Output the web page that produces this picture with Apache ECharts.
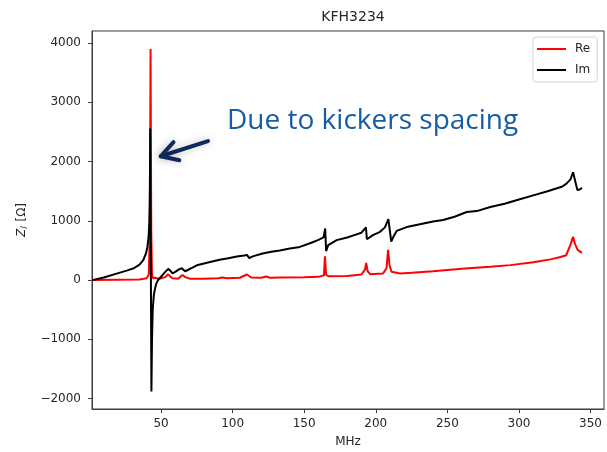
<!DOCTYPE html>
<html>
<head>
<meta charset="utf-8">
<title>KFH3234</title>
<script src="https://cdn.jsdelivr.net/npm/echarts@6/dist/echarts.min.js"></script>
<style>
  html, body { margin: 0; padding: 0; background: #ffffff; }
  #chart { width: 607px; height: 452px; }
</style>
</head>
<body>
<div id="chart"></div>
<script>
// Longitudinal impedance of KFH3234, real and imaginary parts (MHz, Ohm)
const freqRe = [2, 20, 35, 40, 41.5, 42.2, 42.7, 43.2, 43.7, 44.5, 46, 48, 50, 53, 55, 56.5, 58, 62, 65, 67, 70, 80, 90, 93, 96, 105, 110, 113, 120, 123.5, 126, 135, 150, 160, 163.8, 164.5, 165.3, 167, 180, 190, 192.5, 193.3, 194.3, 196, 205, 207.5, 208.6, 209.6, 211, 217, 225, 240, 260, 280, 294, 310, 322, 329, 333, 336, 337.8, 339, 341, 344];
const reValues = [0, 5, 10, 30, 100, 800, 3900, 800, 100, 30, 40, 20, 30, 50, 100, 60, 30, 25, 85, 50, 25, 25, 30, 45, 30, 40, 95, 45, 40, 60, 40, 45, 50, 55, 80, 400, 90, 65, 70, 95, 180, 290, 150, 100, 110, 200, 510, 250, 140, 113, 124, 150, 190, 224, 253, 300, 350, 390, 420, 600, 730, 620, 510, 460];

const freqIm = [2, 10, 19, 26, 31, 35, 37.6, 39.5, 40.5, 41.3, 41.8, 42.1, 42.3, 42.45, 43.3, 43.7, 44.2, 45, 46, 47, 48.5, 50.5, 53, 55, 56.5, 58, 60, 62.5, 64.5, 66.8, 69, 72, 75, 80, 85, 91, 97, 103, 108, 110, 111.7, 114, 121, 127, 133, 140, 147, 155, 160, 163.5, 164.7, 165.3, 166.8, 172.7, 180, 185, 190, 193.1, 193.8, 198, 203, 206.4, 208.8, 210.8, 212.5, 214.6, 221.6, 230, 240, 247, 255, 263.5, 270.5, 280, 290, 300, 310, 320, 326, 330, 333, 336, 337.8, 339, 340.8, 342.5, 344];
const imValues = [0, 45, 110, 160, 200, 260, 337, 450, 560, 720, 950, 1300, 1800, 2560, -1880, -1000, -500, -250, -120, -40, 20, 70, 140, 190, 160, 115, 140, 180, 200, 150, 175, 210, 250, 280, 310, 345, 370, 400, 415, 425, 370, 400, 450, 480, 500, 535, 560, 630, 680, 720, 870, 490, 590, 675, 720, 760, 800, 890, 690, 760, 815, 890, 1030, 650, 740, 830, 895, 940, 990, 1015, 1070, 1150, 1165, 1235, 1290, 1360, 1430, 1500, 1545, 1575, 1625, 1700, 1820, 1700, 1520, 1530, 1560];

const seriesNames = ['Re', 'Im'];
const xTicks = [50, 100, 150, 200, 250, 300, 350];
const yTicks = [-2000, -1000, 0, 1000, 2000, 3000, 4000];

// Callout drawn in data space: arrow from tail to tip, caption to its right
const calloutText = 'Due to kickers spacing';
const arrowTip = [49.8, 2090];
const arrowTail = [82.8, 2345];
const captionAnchor = [96.1, 2680];

const pairs = (xs, ys) => xs.map((x, i) => [x, ys[i]]);

const textColor = '#262626';
const spineColor = '#3d3d3d';
const mplFont = 'DejaVu Sans';

const chart = echarts.init(document.getElementById('chart'), null, { renderer: 'canvas' });

const option = {
  backgroundColor: '#ffffff',
  animation: false,
  title: {
    text: 'KFH3234',
    left: 348,
    top: 5,
    textAlign: 'center',
    textStyle: { fontFamily: mplFont, fontSize: 14, fontWeight: 'normal', color: textColor }
  },
  grid: {
    left: 92, right: 3, top: 31, bottom: 43,
    show: true, borderColor: spineColor, borderWidth: 1,
    outerBoundsMode: 'none'
  },
  legend: {
    data: seriesNames.map(n => ({ name: n, icon: 'rect' })),
    orient: 'vertical',
    left: 533, top: 37,
    itemWidth: 29, itemHeight: 2,
    itemGap: 7,
    itemStyle: { borderWidth: 0 },
    padding: [5, 7, 5, 4],
    backgroundColor: '#ffffff',
    borderColor: '#d4d4d4', borderWidth: 1, borderRadius: 3,
    textStyle: { fontFamily: mplFont, fontSize: 12, color: textColor, lineHeight: 14, padding: [0, 0, 0, 4] }
  },
  xAxis: {
    type: 'value',
    min: 1.8, max: 359.4,
    name: 'MHz',
    nameLocation: 'middle',
    nameGap: 27,
    nameTextStyle: { fontFamily: mplFont, fontSize: 12, color: textColor },
    axisLine: { show: true, onZero: false, lineStyle: { color: spineColor, width: 1 } },
    axisTick: { show: true, length: 4, customValues: xTicks, lineStyle: { color: spineColor } },
    axisLabel: { customValues: xTicks, margin: 9, fontFamily: mplFont, fontSize: 12, color: textColor },
    splitLine: { show: false }
  },
  yAxis: {
    type: 'value',
    min: -2175, max: 4204,
    axisLine: { show: true, onZero: false, lineStyle: { color: spineColor, width: 1 } },
    axisTick: { show: true, length: 4, customValues: yTicks, lineStyle: { color: spineColor } },
    axisLabel: { customValues: yTicks, margin: 11, fontFamily: mplFont, fontSize: 12, color: textColor,
      formatter: v => (v < 0 ? '\u2212' + Math.abs(v) : String(v)) },
    splitLine: { show: false }
  },
  series: [
    {
      name: seriesNames[0], type: 'line',
      data: pairs(freqRe, reValues),
      symbol: 'none', color: '#ff0000',
      lineStyle: { color: '#ff0000', width: 2 },
      z: 2
    },
    {
      name: seriesNames[1], type: 'line',
      data: pairs(freqIm, imValues),
      symbol: 'none', color: '#000000',
      lineStyle: { color: '#000000', width: 2 },
      z: 3
    }
  ]
};

chart.setOption(option);

// Axis title with italic Z and subscript l, placed left of the tick labels;
// callout arrow and caption positioned through the grid's coordinate system
function drawAnnotations() {
  const tip = chart.convertToPixel({ gridIndex: 0 }, arrowTip);
  const tail = chart.convertToPixel({ gridIndex: 0 }, arrowTail);
  const cap = chart.convertToPixel({ gridIndex: 0 }, captionAnchor);
  const dx = tail[0] - tip[0], dy = tail[1] - tip[1];
  const len = Math.hypot(dx, dy);
  const ux = dx / len, uy = dy / len;
  const headLen = 19, headAngle = Math.PI / 6;
  const rot = (a) => [ux * Math.cos(a) - uy * Math.sin(a), ux * Math.sin(a) + uy * Math.cos(a)];
  const w1 = rot(headAngle), w2 = rot(-headAngle);
  const wing1 = [tip[0] + headLen * w1[0], tip[1] + headLen * w1[1]];
  const wing2 = [tip[0] + headLen * w2[0], tip[1] + headLen * w2[1]];
  const arrowStyle = {
    stroke: '#0e2a5c', lineWidth: 4, lineCap: 'round', lineJoin: 'round', fill: null,
    shadowBlur: 8, shadowColor: 'rgba(0, 0, 0, 0.25)'
  };
  const grid = chart.getModel().getComponent('grid').coordinateSystem.getRect();

  chart.setOption({
    graphic: [
      {
        type: 'text', id: 'ylabel',
        x: 22, y: grid.y + grid.height / 2,
        rotation: Math.PI / 2,
        style: {
          text: '{z|Z}{s|l} [\u03a9]',
          align: 'center', verticalAlign: 'middle',
          fill: textColor,
          font: '12px "' + mplFont + '"',
          rich: {
            z: { fontFamily: mplFont, fontSize: 12, fontStyle: 'italic', fill: textColor },
            s: { fontFamily: mplFont, fontSize: 9, fontStyle: 'italic', fill: textColor, padding: [5, 1, 0, 0] }
          }
        },
        z: 10
      },
      { type: 'polyline', id: 'arrowShaft', shape: { points: [tail, tip] }, style: arrowStyle, z: 10 },
      { type: 'polyline', id: 'arrowHead', shape: { points: [wing1, tip, wing2] }, style: arrowStyle, z: 10 },
      {
        type: 'text', id: 'caption',
        x: cap[0], y: cap[1],
        style: {
          text: calloutText,
          align: 'left', verticalAlign: 'middle',
          fill: '#175ca5',
          font: '28px "Open Sans", "Liberation Sans", sans-serif'
        },
        z: 10
      }
    ]
  });
}

drawAnnotations();
</script>
</body>
</html>
